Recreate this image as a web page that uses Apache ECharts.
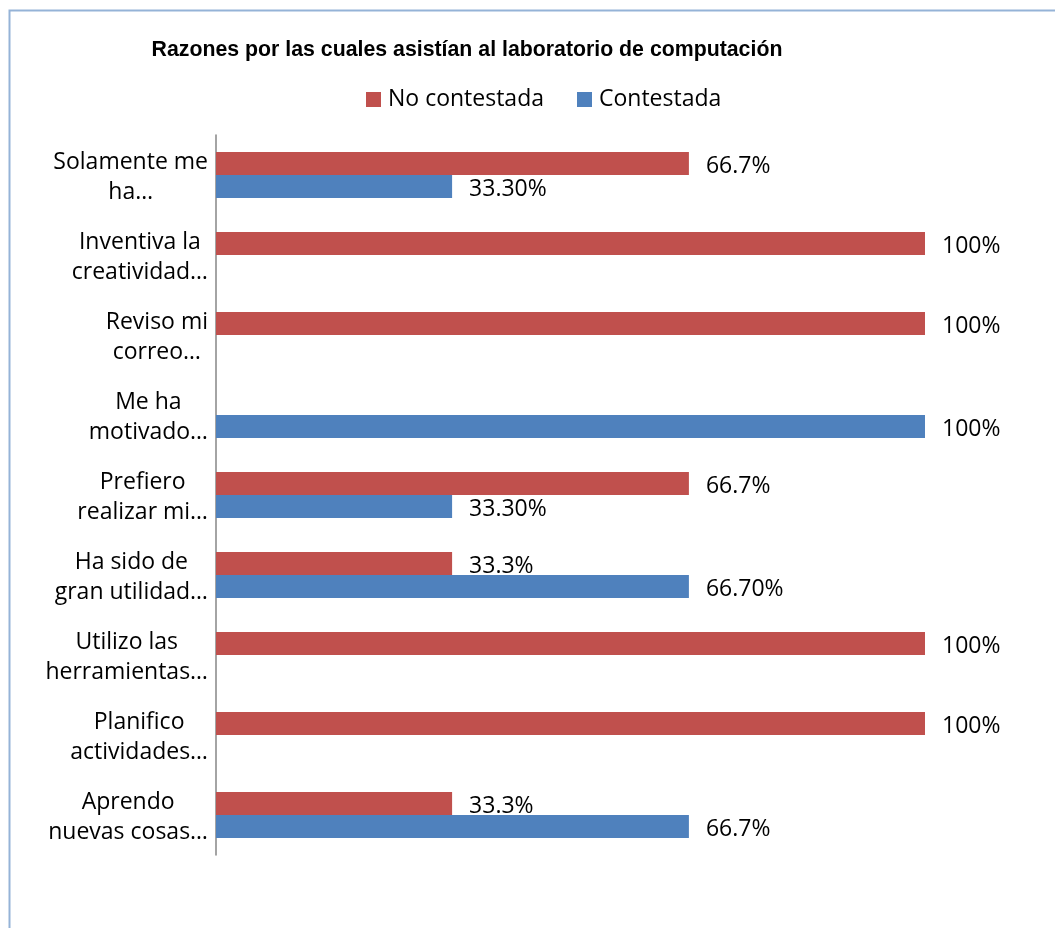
<!DOCTYPE html>
<html>
<head>
<meta charset="utf-8">
<script src="https://cdn.jsdelivr.net/npm/echarts@6/dist/echarts.min.js"></script>
<style>html,body{margin:0;padding:0;background:#fff}#c{width:1055px;height:928px}</style>
</head>
<body>
<div id="c"></div>
<script>
const categories = [
  "Solamente me\nha…",
  "Inventiva la\ncreatividad…",
  "Reviso mi\ncorreo…",
  "Me ha\nmotivado…",
  "Prefiero\nrealizar mi…",
  "Ha sido de\ngran utilidad…",
  "Utilizo las\nherramientas…",
  "Planifico\nactividades…",
  "Aprendo\nnuevas cosas…"
];
const noContestada = [66.7, 100, 100, null, 66.7, 33.3, 100, 100, 33.3];
const contestada = [33.3, null, null, 100, 33.3, 66.7, null, null, 66.7];
const noContestadaLabels = ["66.7%", "100%", "100%", "", "66.7%", "33.3%", "100%", "100%", "33.3%"];
const contestadaLabels = ["33.30%", "", "", "100%", "33.30%", "66.70%", "", "", "66.7%"];

const chart = echarts.init(document.getElementById('c'), null, {renderer: 'canvas'});
const FONT = 'Open Sans';
const FS = 23;
chart.setOption({
  animation: false,
  backgroundColor: '#fff',
  graphic: [{
    type: 'rect', left: 7, top: 8, z: -1,
    shape: {width: 1200, height: 1100},
    style: {fill: 'none', stroke: '#95B3D7', lineWidth: 2}
  }],
  title: {
    text: 'Razones por las cuales asistían al laboratorio de computación',
    left: 462, top: 35, textAlign: 'center',
    textStyle: {fontFamily: 'Liberation Sans, Arial', fontWeight: 'bold', fontSize: 21.3, color: '#000'}
  },
  legend: {
    left: 366, top: 88, padding: 0,
    itemWidth: 15, itemHeight: 15, itemGap: 33,
    icon: 'rect',
    textStyle: {fontFamily: FONT, fontSize: FS, color: '#000', padding: [0,0,0,2]},
    data: ['No contestada', 'Contestada']
  },
  grid: {left: 216, top: 135, width: 709, height: 720, containLabel: false},
  xAxis: {
    type: 'value', min: 0, max: 100,
    axisLine: {show: false}, axisTick: {show: false}, axisLabel: {show: false},
    splitLine: {show: false}
  },
  yAxis: {
    type: 'category', data: categories, inverse: true,
    axisLine: {show: true, lineStyle: {color: '#868686', width: 1.5}},
    axisTick: {show: false},
    axisLabel: {
      margin: 8, align: 'right', fontFamily: FONT, fontSize: FS, color: '#000', lineHeight: 30,
      padding: [4, 0, 0, 0],
      formatter: function (v) {
        return v.split('\n').map(s => '{c|' + s + '}').join('\n');
      },
      rich: {c: {align: 'center', fontFamily: FONT, fontSize: FS, color: '#000', lineHeight: 30}}
    }
  },
  series: [
    {
      name: 'No contestada', type: 'bar', data: noContestada,
      itemStyle: {color: '#C0504D'},
      barWidth: 23, barGap: '0%',
      label: {show: true, position: 'right', distance: 17, offset: [0, 3], fontFamily: FONT, fontSize: FS, color: '#000',
        formatter: p => noContestadaLabels[p.dataIndex]}
    },
    {
      name: 'Contestada', type: 'bar', data: contestada,
      itemStyle: {color: '#4F81BD'},
      barWidth: 23, barGap: '0%',
      label: {show: true, position: 'right', distance: 17, offset: [0, 3], fontFamily: FONT, fontSize: FS, color: '#000',
        formatter: p => contestadaLabels[p.dataIndex]}
    }
  ]
});
</script>
</body>
</html>
